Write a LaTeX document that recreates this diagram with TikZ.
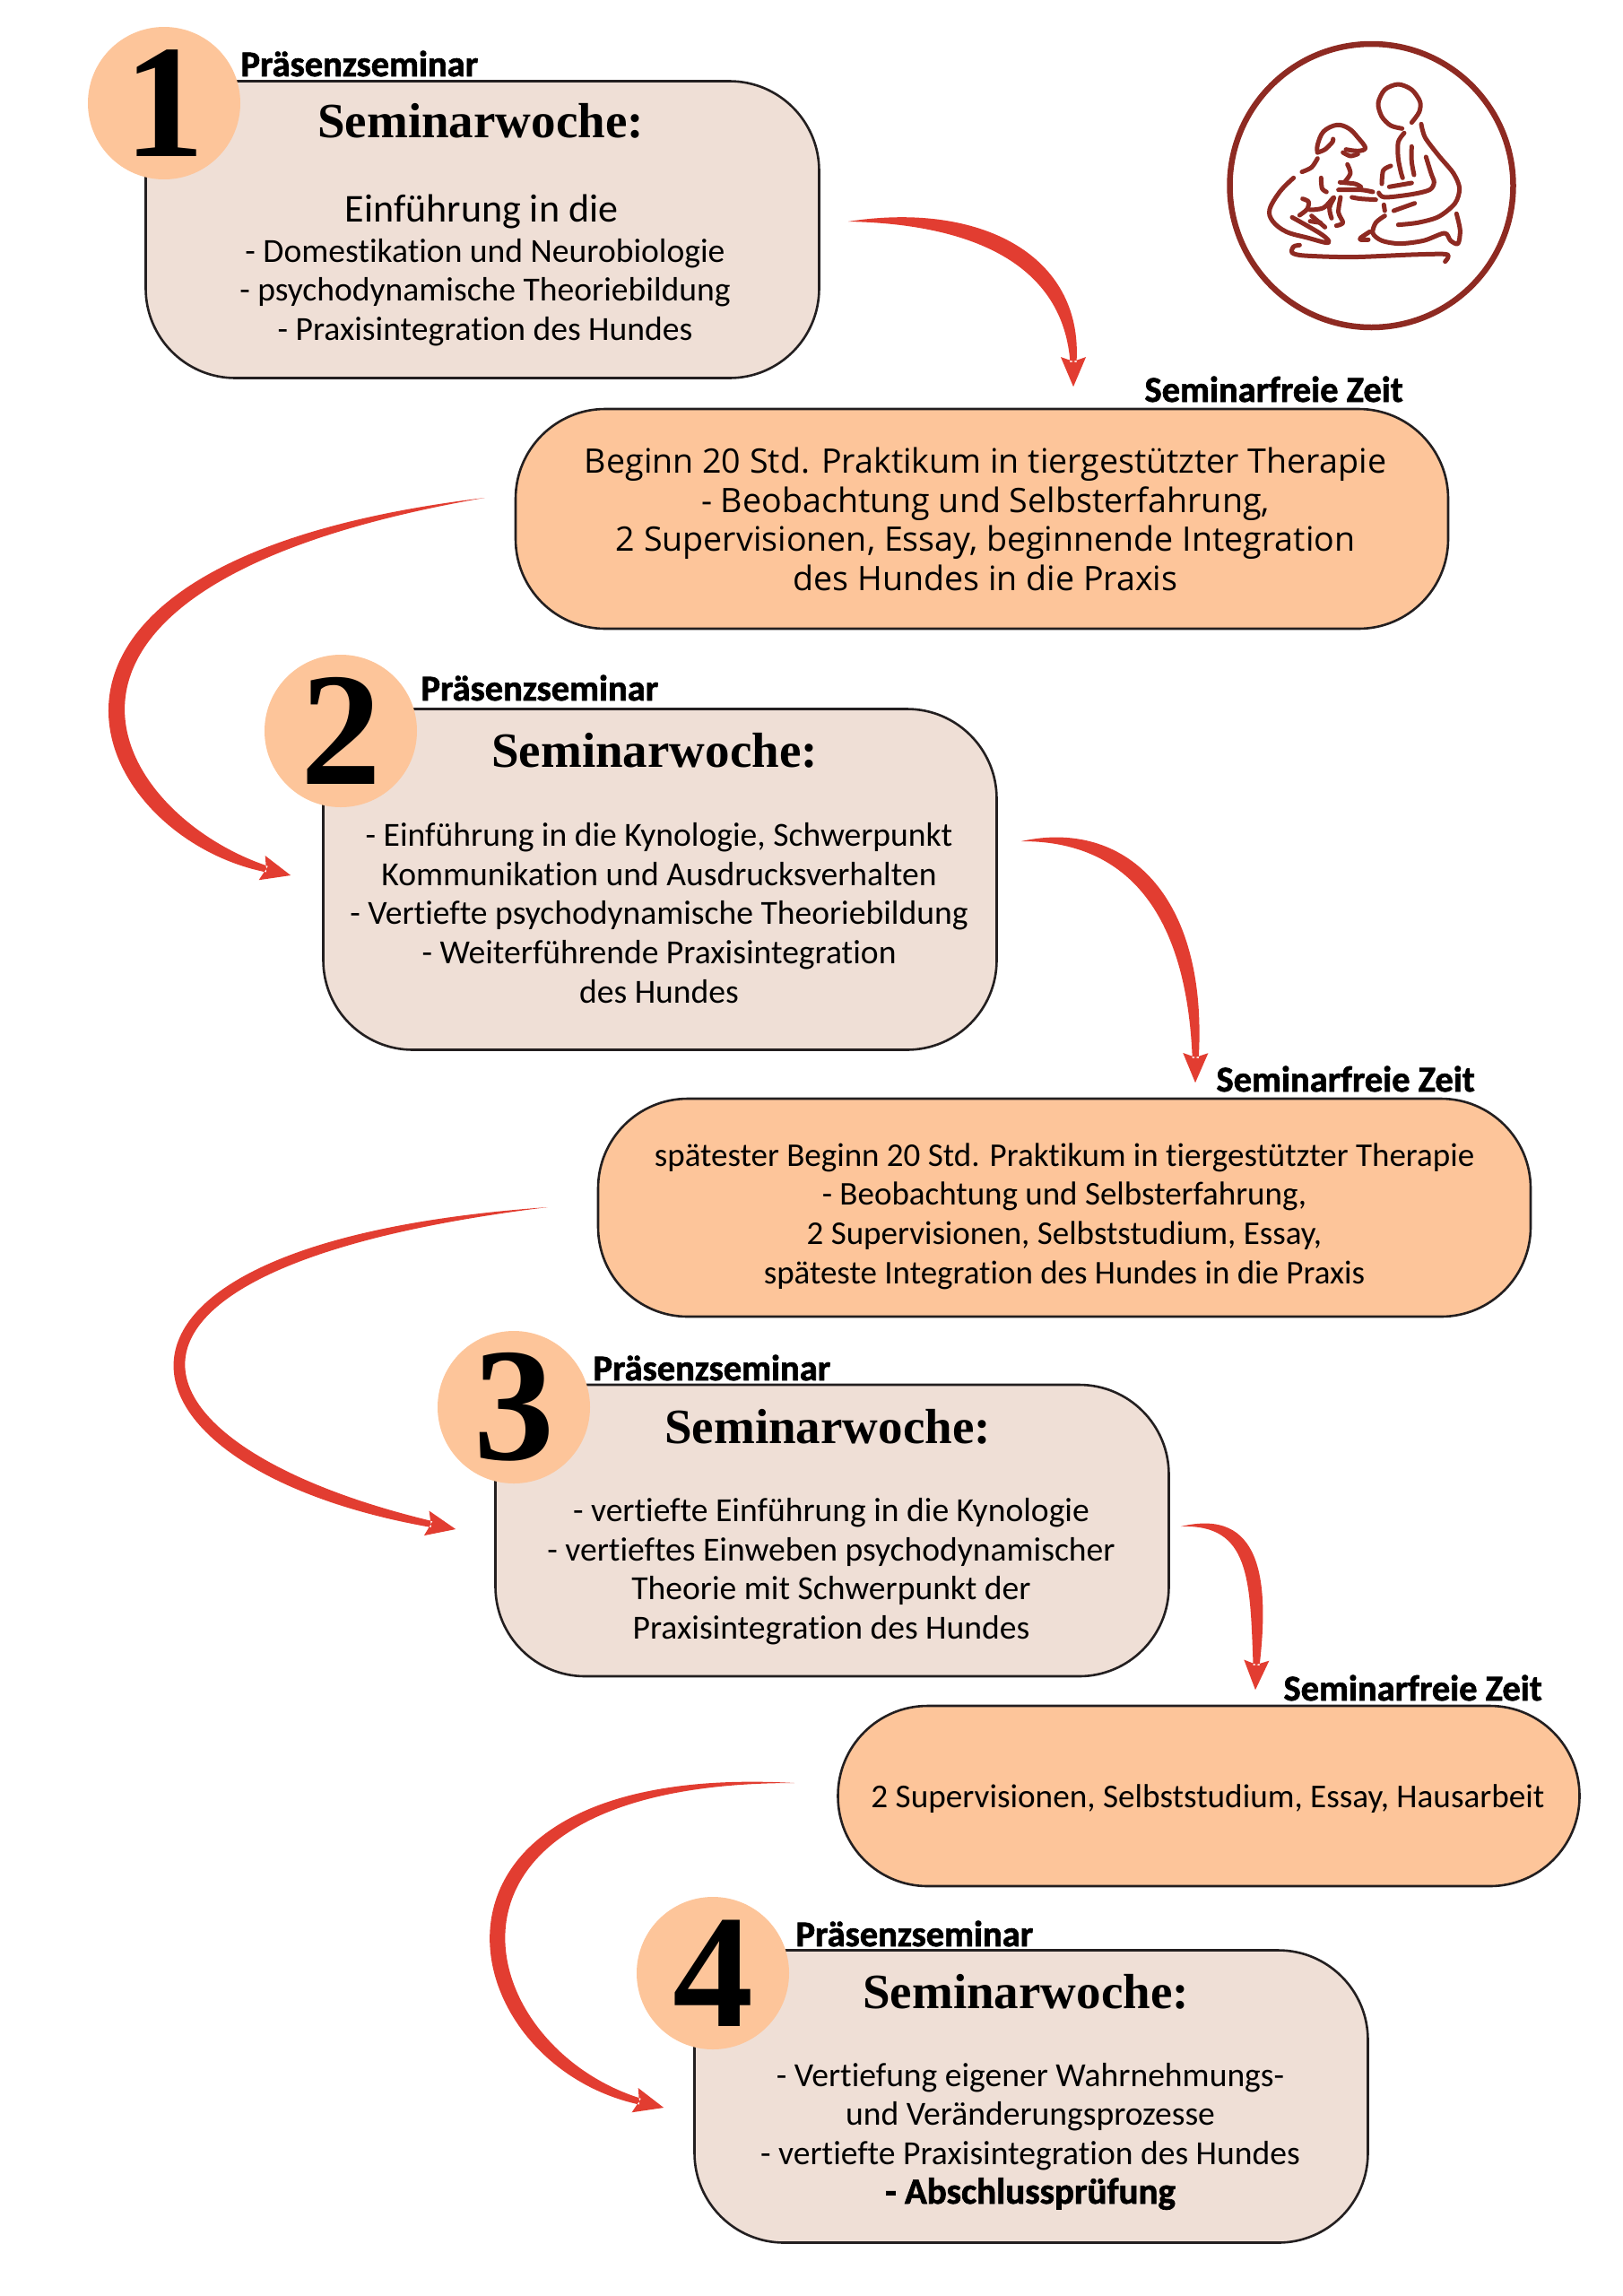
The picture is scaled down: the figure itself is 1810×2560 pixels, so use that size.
\documentclass[tikz,border=0pt]{standalone}
\usepackage{fontspec}
\setmainfont[Ligatures=NoCommon]{Carlito}
\newfontfamily\titlefont{Liberation Serif}
\newfontfamily\widefont{Open Sans}
\newfontfamily\tagfont[Ligatures=NoCommon,FakeBold=1.6]{Carlito Bold}
\usetikzlibrary{calc}
\definecolor{seminarfill}{HTML}{EFDFD6}
\definecolor{freefill}{HTML}{FDC59A}
\definecolor{boxline}{HTML}{231F20}
\definecolor{swooshred}{HTML}{E23D31}
\definecolor{logored}{HTML}{8E2A22}
\tikzset{
  seminarbox/.style={draw=boxline,line width=2.6pt,fill=seminarfill,rounded corners=100pt,minimum width=751pt,minimum height=#1,inner sep=0pt},
  freebox/.style={seminarbox=#1,fill=freefill},
  numberdot/.style={circle,fill=freefill,minimum size=170pt,inner sep=0pt,font=\titlefont\bfseries\fontsize{180}{180}\selectfont},
  seminarhead/.style={font=\titlefont\bfseries\fontsize{55}{60}\selectfont},
  bodytext/.style={align=center,font=\fontsize{37.6}{43.6}\selectfont},
  tagtext/.style={anchor=base west,font=\tagfont\fontsize{40.5}{44}\selectfont},
  logoline/.style={draw=logored,line width=5pt,line cap=round,line join=round},
}
\newcommand{\redswoosh}[5]{\fill[swooshred] (#1) .. controls ($(#2)+($(#1)!#5!90:(#3)$)-(#1)$) and ($(#3)+($(#2)!#5!90:(#4)$)-(#2)$) .. ($(#4)!27pt!(#3)!3.5pt!90:(#4)$) -- ($(#4)!36pt!23:(#3)$) -- (#4) -- ($(#4)!36pt!-23:(#3)$) -- ($(#4)!27pt!(#3)!3.5pt!-90:(#4)$) .. controls ($(#3)+($(#2)!#5!-90:(#4)$)-(#2)$) and ($(#2)+($(#1)!#5!-90:(#3)$)-(#1)$) .. (#1) -- cycle;}
\begin{document}
\begin{tikzpicture}[x=1pt,y=-1pt]
\useasboundingbox (0,0) rectangle (1810,2560);
% seminar weeks and the free time between them
\node[seminarbox=331pt] (weekone) at (538,256){};
\node[freebox=245pt,minimum width=1040pt] (freeone) at (1095,578.5){};
\node[seminarbox=380pt] (weektwo) at (736,980.5){};
\node[freebox=243pt,minimum width=1040pt] (freetwo) at (1187,1346.5){};
\node[seminarbox=325pt] (weekthree) at (928,1706.5){};
\node[freebox=201pt,minimum width=827pt] (freethree) at (1348,2002.5){};
\node[seminarbox=326pt] (weekfour) at (1150,2337.5){};
\foreach \n/\t/\x/\y in {numone/1/183/115,numtwo/2/380/815,numthree/3/573/1569,numfour/4/795/2200}{\node[numberdot] (\n) at (\x,\y){\t};}
\foreach \n/\x/\y in {tagone/265/85,tagtwo/466/781,tagthree/658/1539,tagfour/884/2170}{\node[tagtext] (\n) at (\x,\y){Präsenzseminar};}
\foreach \n/\x/\y in {tagfreeone/1273/448,tagfreetwo/1353/1217,tagfreethree/1428/1896}{\node[tagtext] (\n) at (\x,\y){Seminarfreie Zeit};}
\foreach \n/\x/\y in {headone/536/135,headtwo/730/837,headthree/923/1591,headfour/1144/2221}{\node[seminarhead] (\n) at (\x,\y){Seminarwoche:};}
\node[font=\fontsize{44}{48}\selectfont] (intro) at (537,236){Einführung in die};
\node[bodytext] (bodyone) at (541,326){- Domestikation und Neurobiologie\\- psychodynamische Theoriebildung\\- Praxisintegration des Hundes};
\node[bodytext,font=\widefont\fontsize{37.6}{43.6}\selectfont] (bodyfreeone) at (1099,579){Beginn 20 Std. Praktikum in tiergestützter Therapie\\- Beobachtung und Selbsterfahrung,\\2 Supervisionen, Essay, beginnende Integration\\des Hundes in die Praxis};
\node[bodytext] (bodytwo) at (735,1018){- Einführung in die Kynologie, Schwerpunkt\\Kommunikation und Ausdrucksverhalten\\- Vertiefte psychodynamische Theoriebildung\\- Weiterführende Praxisintegration\\des Hundes};
\node[bodytext,font=\fontsize{37}{43.6}\selectfont] (bodyfreetwo) at (1187,1356){spätester Beginn 20 Std. Praktikum in tiergestützter Therapie\\- Beobachtung und Selbsterfahrung,\\2 Supervisionen, Selbststudium, Essay,\\späteste Integration des Hundes in die Praxis};
\node[bodytext] (bodythree) at (927,1752){- vertiefte Einführung in die Kynologie\\- vertieftes Einweben psychodynamischer\\Theorie mit Schwerpunkt der\\Praxisintegration des Hundes};
\node[bodytext,font=\fontsize{37.2}{43.6}\selectfont] (bodyfreethree) at (1347,2006){2 Supervisionen, Selbststudium, Essay, Hausarbeit};
\node[bodytext] (bodyfour) at (1149,2382){- Vertiefung eigener Wahrnehmungs-\\und Veränderungsprozesse\\- vertiefte Praxisintegration des Hundes\\{\tagfont\fontsize{41}{43.6}\selectfont - Abschlussprüfung}};
% swoosh arrows, free ends hang off the boxes
\coordinate (aone) at ($(weekone.east)+(31,-9)$);\coordinate (bone) at ($(freeone.north)+(102,-23.5)$);
\coordinate (atwo) at ($(freeone.west)+(-33,-23.5)$);\coordinate (btwo) at ($(weektwo.west)+(-35,-4.5)$);
\coordinate (athree) at ($(weektwo.east)+(26,-42.5)$);\coordinate (bthree) at ($(freetwo.north)+(146,-16.5)$);
\coordinate (afour) at ($(freetwo.west)+(-55,-.5)$);\coordinate (bfour) at ($(weekthree.west)+(-43,-1.5)$);
\coordinate (afive) at ($(weekthree.east)+(12,-4.5)$);\coordinate (bfive) at ($(freethree.north)+(52,-16.5)$);
\coordinate (asix) at ($(freethree.west)+(-47,-14.5)$);\coordinate (bsix) at ($(weekfour.west)+(-33,12.5)$);
\redswoosh{aone}{1090,237}{1197,290}{bone}{13pt}
\redswoosh{atwo}{-40,640}{110,920}{btwo}{18pt}
\redswoosh{athree}{1250,925}{1335,1000}{bthree}{13pt}
\redswoosh{afour}{50,1400}{120,1625}{bfour}{16pt}
\redswoosh{afive}{1400,1690}{1405,1760}{bfive}{11pt}
\redswoosh{asix}{440,1975}{510,2290}{bsix}{16pt}
% logo, traced by hand
\draw[logored,line width=6.5pt] (1529.5,207) circle (158);
\begin{scope}[shift={(1341,30)},x=.3333pt,y=-.3333pt]
\draw[logoline] plot[smooth] coordinates {(700,320)(725,285)(728,250)(700,210)(655,192)(610,210)(588,255)(600,300)(630,330)(668,340)};
\draw[logoline] plot[smooth] coordinates {(732,325)(745,370)(790,430)(840,490)(860,540)(845,590)(790,635)(720,655)(655,662)};
\draw[logoline] plot[smooth] coordinates {(675,355)(655,385)(655,440)(665,490)(670,505)};
\draw[logoline] plot[smooth] coordinates {(700,400)(700,450)(708,495)};
\draw[logoline] plot[smooth] coordinates {(748,435)(765,490)(775,520)(760,545)(700,560)(610,570)(590,555)};
\draw[logoline] plot[smooth] coordinates {(630,465)(605,480)(600,525)};
\draw[logoline] (625,535)--(700,522);\draw[logoline] (640,615)--(710,590);\draw[logoline] (607,595)--(610,615);
\draw[logoline] plot[smooth,tension=.5] coordinates {(610,632)(580,655)(570,690)(600,715)(660,725)(740,715)(810,690)(830,715)(855,725)(862,680)(850,625)};
\draw[logoline] plot[smooth] coordinates {(560,685)(530,705)(530,712)(555,712)};
\draw[logoline] plot[smooth,tension=.5] coordinates {(325,730)(305,735)(300,755)(340,765)(500,770)(700,762)(810,760)(822,770)(812,785)};
\draw[logoline] plot[smooth,tension=.6] coordinates {(385,420)(385,395)(405,350)(450,328)(490,340)(520,370)(545,405)(520,415)(480,410)};
\draw[logoline] plot[smooth] coordinates {(385,420)(410,410)(435,385)(437,375)};
\draw[logoline] plot[smooth] coordinates {(470,420)(495,432)(520,425)};
\draw[logoline] plot[smooth] coordinates {(385,440)(365,470)(333,485)};
\draw[logoline] plot[smooth,tension=.6] coordinates {(305,505)(260,550)(225,610)(235,650)(280,685)(350,705)(420,722)(400,695)(300,637)};
\draw[logoline] plot[smooth] coordinates {(485,460)(495,490)(475,520)};
\draw[logoline] plot[smooth] coordinates {(460,520)(510,525)(530,535)};
\draw[logoline] plot[smooth] coordinates {(455,545)(530,545)(570,552)};
\draw[logoline] plot[smooth] coordinates {(500,570)(530,575)(580,578)};
\draw[logoline] plot[smooth] coordinates {(397,505)(400,540)(415,552)};
\draw[logoline] plot[smooth] coordinates {(335,575)(355,585)(350,610)(325,630)};
\draw[logoline] plot[smooth,tension=.6] coordinates {(360,612)(405,605)(440,570)(425,605)(432,640)};
\draw[logoline] plot[smooth] coordinates {(462,570)(455,620)(470,655)(448,665)};
\draw[logoline] (365,632)--(410,670);\draw[logoline] (360,650)--(395,655);
\end{scope}
\end{tikzpicture}
\end{document}
